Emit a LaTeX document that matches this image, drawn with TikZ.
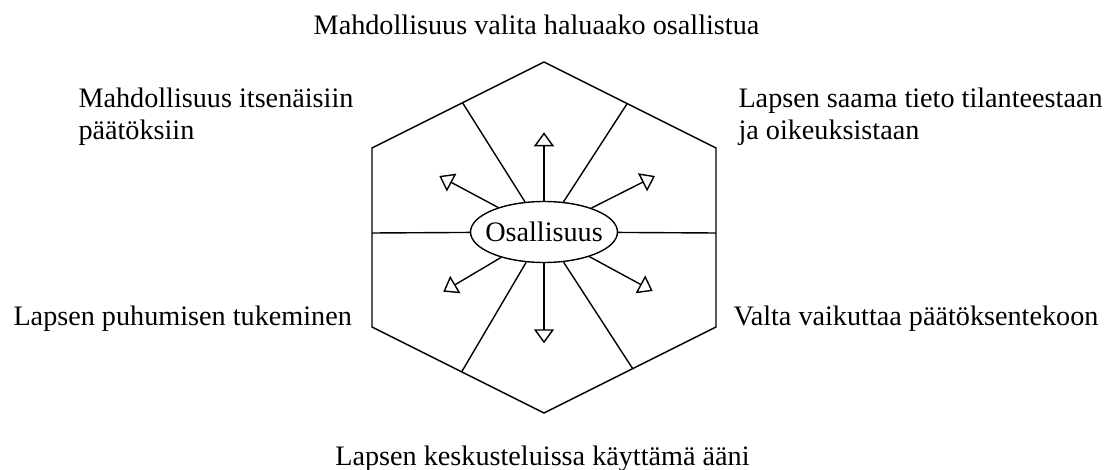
\documentclass[tikz,border=0pt]{standalone}
\usepackage{fontspec}
\setmainfont{Liberation Serif}
\usetikzlibrary{arrows.meta,shapes.geometric}
\begin{document}
\begin{tikzpicture}[x=1pt,y=-1pt,
  hexline/.style={line width=1.4pt,line join=miter},
  spoke/.style={line width=1.4pt},
  outarrow/.style={line width=1.4pt,-{Triangle[open,length=14pt,width=20pt,line width=1.4pt]}},
  lbl/.style={inner sep=0pt,font=\fontsize{28.2}{32.7}\selectfont,align=left},
  core/.style={ellipse,draw,line width=1.4pt,minimum width=147pt,minimum height=61pt,inner sep=0pt,font=\fontsize{28.2}{32.7}\selectfont}]
\useasboundingbox (0,0) rectangle (1117,470);
% hexagon vertices
\coordinate (vT) at (544,62);
\coordinate (vUR) at (716,148);
\coordinate (vLR) at (716,327);
\coordinate (vB) at (544,413);
\coordinate (vLL) at (372,327);
\coordinate (vUL) at (372,148);
\draw[hexline] (vT) -- (vUR) -- (vLR) -- (vB) -- (vLL) -- (vUL) -- cycle;
% centre
\node[core] (ell) at (544,232) {\makebox[0pt][c]{\raisebox{-2pt}{Osallisuus}}};
% edge points
\coordinate (eUL) at (462.5,102.7);
\coordinate (eUR) at (626.7,104.3);
\coordinate (eL) at (372,233);
\coordinate (eR) at (716,233);
\coordinate (eLL) at (461.7,371.8);
\coordinate (eLR) at (632.7,368.7);
\foreach \e in {eUL,eUR,eL,eR,eLL,eLR} \draw[spoke] (\e) -- (ell);
% arrow tips
\coordinate (tU) at (544,132.3);
\coordinate (tUL) at (439.3,176);
\coordinate (tUR) at (655,176);
\coordinate (tLL) at (443.3,291.7);
\coordinate (tLR) at (652.7,291);
\coordinate (tD) at (544,343.3);
\foreach \t in {tU,tUL,tUR,tLL,tLR,tD} \draw[outarrow] (ell) -- (\t);
% labels
\node[lbl,anchor=base] (lT) at (536.5,35) {Mahdollisuus valita haluaako osallistua};
\node[lbl,anchor=base west] (lUL) at (78.3,140) {Mahdollisuus itsenäisiin\\päätöksiin};
\node[lbl,anchor=base west] (lUR) at (738.3,140) {Lapsen saama tieto tilanteestaan\\ja oikeuksistaan};
\node[lbl,anchor=base west] (lLL) at (13.3,326) {Lapsen puhumisen tukeminen};
\node[lbl,anchor=base west] (lLR) at (733.3,326) {Valta vaikuttaa päätöksentekoon};
\node[lbl,anchor=base] (lB) at (542.5,465) {Lapsen keskusteluissa käyttämä ääni};
\end{tikzpicture}
\end{document}
